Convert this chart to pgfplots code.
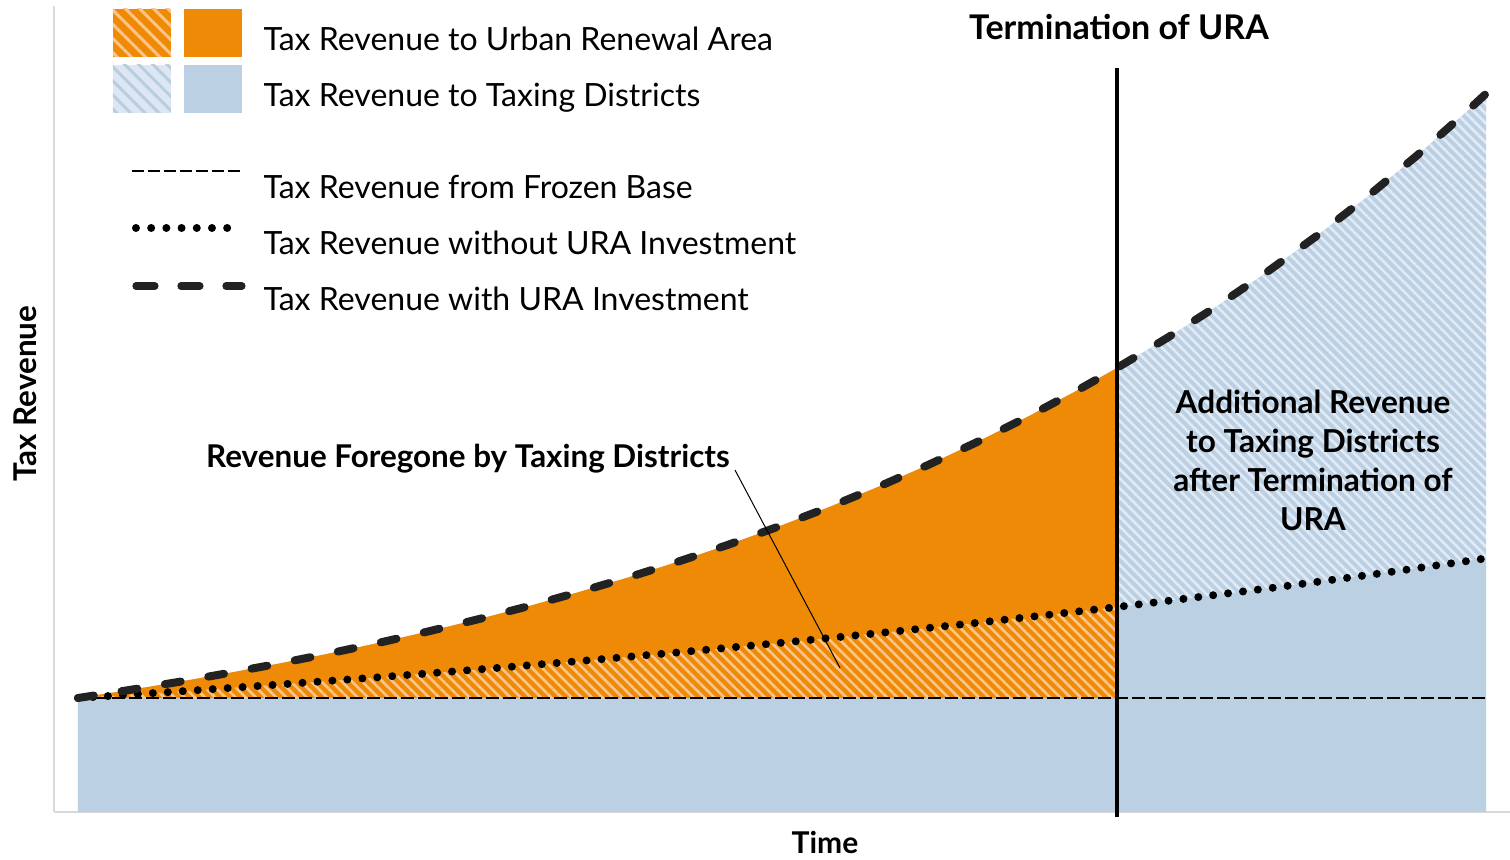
\documentclass[border=0pt]{standalone}
\usepackage{pgfplots}
\usepackage{pgfplotstable}
\pgfplotsset{compat=1.18}
\usepgfplotslibrary{fillbetween}
\usetikzlibrary{patterns.meta}
\usepackage{fontspec}
\setmainfont{Lato}
\definecolor{uraorange}{HTML}{EF8A06}
\definecolor{uraorangelt}{HTML}{F9C58A}
\definecolor{urablue}{HTML}{BBD0E3}
\definecolor{urabluelt}{HTML}{E2EBF5}
\definecolor{legbluebg}{HTML}{DCE6F4}
\definecolor{legbluestripe}{HTML}{B9CEDD}
\definecolor{dashdark}{HTML}{222222}
\definecolor{axisgray}{HTML}{D9D9D9}

\pgfplotstableread{
x y
0 114
50 121.8
100 130.0
150 138.9
200 148.3
250 158.3
300 169.0
350 180.5
400 192.7
450 205.7
500 219.7
550 234.5
600 250.3
650 267.2
700 285.3
750 304.5
800 325.1
850 347.0
900 370.4
950 395.4
1000 422.0
1039 444.1
1089 474.0
1139 505.9
1189 540.0
1239 576.3
1289 615.1
1339 656.5
1389 700.7
1408 718.3
}\withura

\pgfplotstableread{
x y
0 114
100 120.5
200 127.4
300 134.7
400 142.5
500 150.8
600 159.6
700 168.9
800 178.8
900 189.3
1000 200.5
1039 205.0
1100 212.4
1200 224.9
1300 238.3
1408 253.6
}\withoutura

\pgfplotstableread{
x y
0 114
1408 114
}\frozen

\pgfplotstableread{
x y
0 0
1408 0
}\bottomline

\begin{document}
\begin{tikzpicture}
\begin{axis}[
  scale only axis, width=728pt, height=403pt,
  xmin=-24, xmax=1432, ymin=0, ymax=806,
  separate axis lines,
  axis x line*=bottom, axis y line*=left,
  axis line style={axisgray, line width=1pt},
  xtick=\empty, ytick=\empty,
  clip=false,
  font=\fontsize{16}{19}\selectfont,
  xlabel={\bfseries Time},
  ylabel={\bfseries Tax Revenue},
  xlabel style={at={(rel axis cs:0.5295,-0.0372)}, anchor=center, inner sep=0pt, font=\fontsize{15}{18}\selectfont},
  ylabel style={at={(rel axis cs:-0.0199,0.519)}, anchor=center, inner sep=0pt, rotate=0, font=\fontsize{15.7}{18}\selectfont},
  legend cell align=left,
  legend style={at={(rel axis cs:0.0405,0.9963)}, anchor=north west,
    draw=none, fill=none, inner sep=0pt, outer sep=0pt,
    row sep=4pt, column sep=9pt,
    font=\fontsize{16}{19}\selectfont,
    nodes={inner sep=0pt}},
]
% legend entries
\addlegendimage{legend image code/.code={
  \fill[uraorange, draw=none] (0pt,-8.5pt) rectangle (29pt,15.5pt);
  \fill[pattern={Lines[angle=-45,distance=5pt,line width=1.5pt]}, pattern color=uraorangelt, draw=none] (0pt,-8.5pt) rectangle (29pt,15.5pt);
  \fill[uraorange, draw=none] (35.5pt,-8.5pt) rectangle (64.5pt,15.5pt);
}}
\addlegendentry{Tax Revenue to Urban Renewal Area}
\addlegendimage{legend image code/.code={
  \fill[legbluebg, draw=none] (0pt,-8.5pt) rectangle (29pt,15.5pt);
  \fill[pattern={Lines[angle=-45,distance=5pt,line width=1.5pt]}, pattern color=legbluestripe, draw=none] (0pt,-8.5pt) rectangle (29pt,15.5pt);
  \fill[urablue, draw=none] (35.5pt,-8.5pt) rectangle (64.5pt,15.5pt);
}}
\addlegendentry{Tax Revenue to Taxing Districts}
\addlegendimage{legend image code/.code={
  \path[draw=none, fill=none] (0pt,-12pt) rectangle (64.5pt,33.5pt);
  \draw[black, line width=1.3pt, dash pattern=on 6pt off 2pt] (9.5pt,8.5pt) -- (64.5pt,8.5pt);
}}
\addlegendentry{Tax Revenue from Frozen Base}
\addlegendimage{legend image code/.code={
  \path[draw=none, fill=none] (0pt,-12pt) rectangle (64.5pt,12pt);
  \draw[black, line width=4pt, line cap=round, dash pattern=on 0pt off 7.6pt] (11.5pt,8pt) -- (63pt,8pt);
}}
\addlegendentry{Tax Revenue without URA Investment}
\addlegendimage{legend image code/.code={
  \path[draw=none, fill=none] (0pt,-12pt) rectangle (64.5pt,12pt);
  \draw[dashdark, line width=3.6pt, line cap=round, dash pattern=on 9.5pt off 13pt] (11.5pt,7pt) -- (64.5pt,7pt);
}}
\addlegendentry{Tax Revenue with URA Investment}

% paths
\addplot[name path=ura, draw=none, forget plot] table {\withura};
\addplot[name path=nour, draw=none, forget plot] table {\withoutura};
\addplot[name path=base, draw=none, forget plot] table {\frozen};
\addplot[name path=bot, draw=none, forget plot] table {\bottomline};

% fills
\addplot[urablue, forget plot] fill between[of=ura and bot];
\addplot[uraorange, forget plot] fill between[of=ura and base, soft clip={domain=0:1039}];
\addplot[pattern={Lines[angle=-45,distance=3.6pt,line width=1.3pt]}, pattern color=uraorangelt, forget plot] fill between[of=nour and base, soft clip={domain=0:1039}];
\addplot[pattern={Lines[angle=-45,distance=3.4pt,line width=1.3pt]}, pattern color=urabluelt, forget plot] fill between[of=ura and nour, soft clip={domain=1039:1408}];

% lines
\addplot[black, line width=1.4pt, dash pattern=on 6.5pt off 2pt, forget plot] table {\frozen};
\addplot[black, line width=4pt, line cap=round, dash pattern=on 0pt off 7.5pt, forget plot] table {\withoutura};
\addplot[dashdark, line width=4pt, line cap=round, dash pattern=on 8pt off 14pt, forget plot] table {\withura};
\addplot[black, line width=2.2pt, forget plot] coordinates {(1039,-5) (1039,744)};
\addplot[black, line width=0.5pt, forget plot] coordinates {(657,342) (762,144)};

\node[font=\fontsize{17}{20}\selectfont\bfseries] at (axis cs:1041,785) {Termination of URA};
\node[font=\fontsize{15.7}{19}\selectfont\bfseries] at (axis cs:390,353) {Revenue Foregone by Taxing Districts};
\node[align=center, font=\fontsize{15.8}{19.5}\selectfont\bfseries] at (axis cs:1235,352) {Additional Revenue\\to Taxing Districts\\after Termination of\\URA};

\coordinate (bbsw) at (axis cs:-78,-47);
\coordinate (bbne) at (axis cs:1432,812);
\end{axis}
\pgfresetboundingbox
\path (bbsw) rectangle (bbne);
\end{tikzpicture}
\end{document}
